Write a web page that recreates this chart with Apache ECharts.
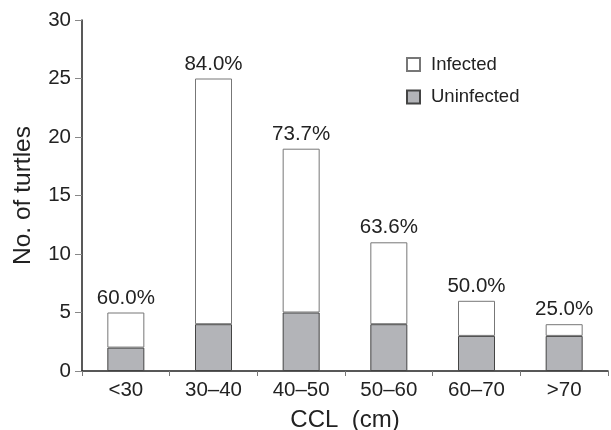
<!DOCTYPE html>
<html>
<head>
<meta charset="utf-8">
<script src="https://cdn.jsdelivr.net/npm/echarts@6/dist/echarts.min.js"></script>
<style>html,body{margin:0;padding:0;background:#fff}#c{width:611px;height:430px}</style>
</head>
<body>
<div id="c"></div>
<script>
const categories = ['<30', '30\u201340', '40\u201350', '50\u201360', '60\u201370', '>70'];
const uninfected = [2, 4, 5, 4, 3, 3];
const infected = [3, 21, 14, 7, 3, 1];
const yTicks = [0, 5, 10, 15, 20, 25, 30];

const chart = echarts.init(document.getElementById('c'), null, {renderer: 'canvas'});
const font = 'Liberation Sans, Arial, Helvetica, sans-serif';
chart.setOption({
  animation: false,
  backgroundColor: '#fff',
  textStyle: {fontFamily: font},
  grid: {left: 82, right: 3, top: 20, bottom: 59, containLabel: false, outerBoundsMode: 'none'},
  legend: {
    data: ['Infected', 'Uninfected'],
    orient: 'vertical',
    left: 401,
    top: 50,
    itemWidth: 13,
    itemHeight: 13,
    itemGap: 13.5,
    icon: 'rect',
    textStyle: {fontSize: 18.5, color: '#222', fontFamily: font, padding: [0, 0, 0, 6]}
  },
  xAxis: {
    type: 'category',
    data: categories,
    name: 'CCL  (cm)',
    nameLocation: 'middle',
    nameGap: 37,
    nameTextStyle: {fontSize: 24, color: '#222', fontFamily: font},
    axisLine: {lineStyle: {color: '#222', width: 1.5}},
    axisTick: {show: true, length: 5, lineStyle: {color: '#777'}},
    axisLabel: {fontSize: 20.5, color: '#222', margin: 9, fontFamily: font}
  },
  yAxis: {
    type: 'value',
    min: yTicks[0],
    max: yTicks[yTicks.length - 1],
    interval: 5,
    name: 'No. of turtles',
    nameLocation: 'middle',
    nameGap: 46,
    nameTextStyle: {fontSize: 24.5, color: '#222', fontFamily: font},
    axisLine: {show: true, lineStyle: {color: '#222', width: 1.5}},
    axisTick: {show: true, length: 7, lineStyle: {color: '#888'}},
    axisLabel: {fontSize: 20.5, color: '#222', margin: 11, fontFamily: font},
    splitLine: {show: false}
  },
  series: [
    {
      name: 'Uninfected',
      type: 'bar',
      stack: 'total',
      barWidth: 37,
      data: uninfected,
      itemStyle: {color: '#b3b4b8', borderColor: '#444', borderWidth: 1}
    },
    {
      name: 'Infected',
      type: 'bar',
      stack: 'total',
      barWidth: 37,
      data: infected,
      itemStyle: {color: '#ffffff', borderColor: '#777', borderWidth: 1},
      label: {
        show: true,
        position: 'top',
        distance: 4,
        fontSize: 20.5,
        color: '#222',
        fontFamily: font,
        formatter: p => (infected[p.dataIndex] / (infected[p.dataIndex] + uninfected[p.dataIndex]) * 100).toFixed(1) + '%'
      }
    }
  ]
});
</script>
</body>
</html>
